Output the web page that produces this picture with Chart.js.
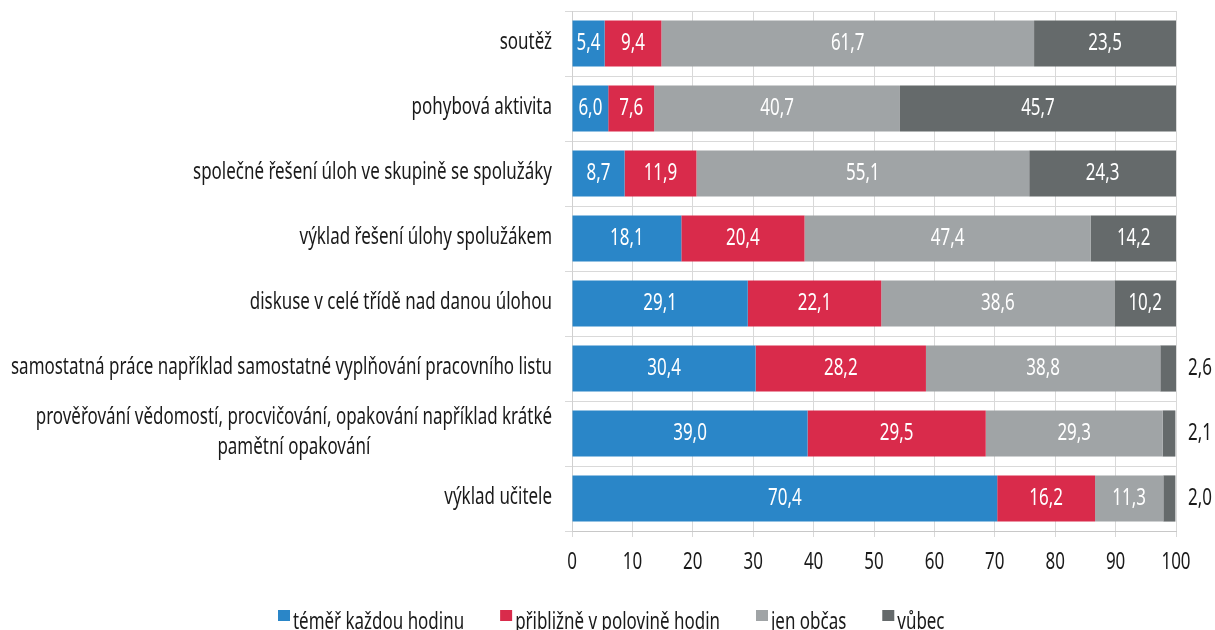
<!DOCTYPE html>
<html>
<head>
<meta charset="utf-8">
<script src="https://cdn.jsdelivr.net/npm/chart.js@4"></script>
<style>
  html, body { margin: 0; padding: 0; background: #fff; }
  #wrap { width: 1215px; height: 630px; }
</style>
</head>
<body>
<div id="wrap"><canvas id="myChart"></canvas></div>
<script>
const categories = [
  "soutěž",
  "pohybová aktivita",
  "společné řešení úloh ve skupině se spolužáky",
  "výklad řešení úlohy spolužákem",
  "diskuse v celé třídě nad danou úlohou",
  "samostatná práce například samostatné vyplňování pracovního listu",
  ["prověřování vědomostí, procvičování, opakování například krátké", "pamětní opakování"],
  "výklad učitele"
];
const seriesNames = ["téměř každou hodinu", "přibližně v polovině hodin", "jen občas", "vůbec"];
const everyLesson = [5.4, 6.0, 8.7, 18.1, 29.1, 30.4, 39.0, 70.4];
const halfLessons = [9.4, 7.6, 11.9, 20.4, 22.1, 28.2, 29.5, 16.2];
const sometimes = [61.7, 40.7, 55.1, 47.4, 38.6, 38.8, 29.3, 11.3];
const never = [23.5, 45.7, 24.3, 14.2, 10.2, 2.6, 2.1, 2.0];
const colors = ["#2a86c8", "#d92b4b", "#a0a4a6", "#656a6b"];
const xTicks = [0, 10, 20, 30, 40, 50, 60, 70, 80, 90, 100];

const FONT = '23px "Noto Sans", sans-serif';
const TEXT = "#1a1a1a";
const LINE_H = 30;

// the original uses a condensed face, so text is squeezed horizontally
let SX = 1;
function squeeze(ctx) {
  ctx.font = FONT;
  SX = 541 / ctx.measureText(categories[5]).width;
}
function text(ctx, s, x, y, align) {
  ctx.save();
  ctx.translate(x, y);
  ctx.scale(SX, 1);
  ctx.textAlign = align;
  ctx.fillText(s, 0, 0);
  ctx.restore();
}
function textWidth(ctx, s) {
  return ctx.measureText(s).width * SX;
}

const yLabels = {
  id: "yLabels",
  afterDraw(chart) {
    const ctx = chart.ctx;
    const y = chart.scales.y;
    ctx.save();
    squeeze(ctx);
    ctx.fillStyle = TEXT;
    ctx.textBaseline = "middle";
    const right = chart.chartArea.left - 20;
    categories.forEach((lab, i) => {
      const lines = Array.isArray(lab) ? lab : [lab];
      const w = Math.max(...lines.map((l) => textWidth(ctx, l)));
      const yc = y.getPixelForTick(i);
      lines.forEach((l, k) => {
        text(ctx, l, right - w / 2, yc - 1 + (k - (lines.length - 1) / 2) * LINE_H, "center");
      });
    });
    ctx.restore();
  },
};

const xLabels = {
  id: "xLabels",
  afterDraw(chart) {
    const ctx = chart.ctx;
    const x = chart.scales.x;
    ctx.save();
    squeeze(ctx);
    ctx.fillStyle = TEXT;
    ctx.textBaseline = "middle";
    xTicks.forEach((v) => text(ctx, String(v), x.getPixelForValue(v), x.top + 31, "center"));
    ctx.restore();
  },
};

const valueLabels = {
  id: "valueLabels",
  afterDatasetsDraw(chart) {
    const ctx = chart.ctx;
    ctx.save();
    squeeze(ctx);
    ctx.textBaseline = "middle";
    chart.data.datasets.forEach((ds, di) => {
      const meta = chart.getDatasetMeta(di);
      meta.data.forEach((bar, i) => {
        const v = ds.data[i];
        const s = v.toFixed(1).replace(".", ",");
        if (v < 4) {
          ctx.fillStyle = TEXT;
          text(ctx, s, chart.chartArea.right + 24, bar.y, "center");
        } else {
          ctx.fillStyle = "#fff";
          text(ctx, s, (bar.x + bar.base) / 2, bar.y, "center");
        }
      });
    });
    ctx.restore();
  },
};

const legendRow = {
  id: "legendRow",
  afterDraw(chart) {
    const ctx = chart.ctx;
    ctx.save();
    squeeze(ctx);
    ctx.textBaseline = "middle";
    let left = 278;
    const yc = 622;
    chart.data.datasets.forEach((ds) => {
      ctx.fillStyle = ds.backgroundColor;
      ctx.fillRect(left, yc - 12, 12, 11);
      ctx.fillStyle = TEXT;
      text(ctx, ds.label, left + 15, yc, "left");
      left += 15 + textWidth(ctx, ds.label) + 36;
    });
    ctx.restore();
  },
};

const seriesData = [everyLesson, halfLessons, sometimes, never];

var ctx = document.getElementById("myChart").getContext("2d");
var chart = new Chart(ctx, {
  type: "bar",
  data: {
    labels: categories,
    datasets: seriesNames.map((name, i) => ({
      label: name,
      data: seriesData[i],
      backgroundColor: colors[i],
      borderWidth: 0,
      barPercentage: 0.71,
      categoryPercentage: 1,
    })),
  },
  options: {
    indexAxis: "y",
    responsive: true,
    maintainAspectRatio: false,
    animation: false,
    layout: { padding: { top: 11, right: 39, left: 0, bottom: 0 } },
    scales: {
      x: {
        stacked: true,
        min: 0,
        max: 100,
        ticks: { display: false, stepSize: 10 },
        grid: { color: "#d9d9d9", tickLength: 6 },
        border: { color: "#c8c8c8" },
        afterFit: (scale) => {
          scale.height = 99;
        },
      },
      y: {
        stacked: true,
        ticks: { display: false },
        grid: { color: "#d9d9d9", offset: true, tickLength: 7 },
        border: { color: "#d0d0d0" },
        afterFit: (scale) => {
          scale.width = 572;
        },
      },
    },
    plugins: {
      legend: { display: false },
      tooltip: { enabled: false },
    },
  },
  plugins: [yLabels, xLabels, valueLabels, legendRow],
});
</script>
</body>
</html>
